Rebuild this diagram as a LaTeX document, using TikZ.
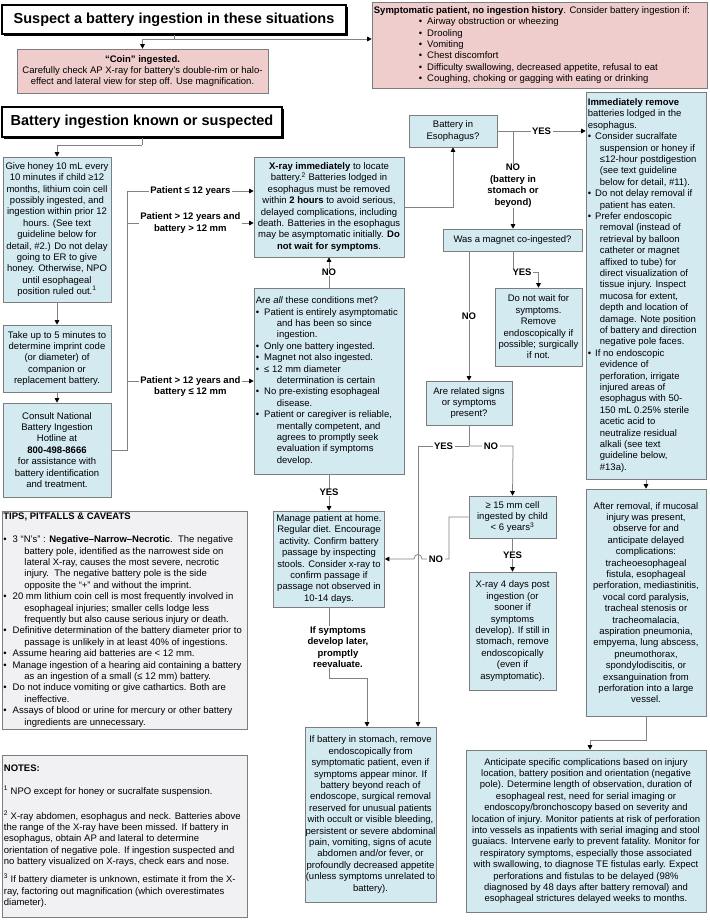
\documentclass[tikz,border=0pt]{standalone}
\usepackage{fontspec}
\setmainfont{Liberation Sans}
\usetikzlibrary{arrows.meta}
\definecolor{bblue}{RGB}{212,234,241}
\definecolor{bpink}{RGB}{239,205,205}
\definecolor{bgray}{RGB}{241,241,244}
\definecolor{edgec}{RGB}{125,125,125}
\definecolor{lnc}{RGB}{130,130,130}
\newcommand\myfs{\fontsize{9.5}{11.4}\selectfont}
\newcommand\myttl{\fontsize{14.5}{17}\selectfont\bfseries}
\newcommand\mybul{\textbullet}
\begin{document}
\begin{tikzpicture}[x=1pt,y=-1pt,
 box/.style={draw=edgec,line width=0.6pt,fill=bblue,inner sep=0pt,align=center,font=\myfs},
 pbox/.style={box,fill=bpink},
 gbox/.style={box,fill=bgray},
 txt/.style={inner sep=0pt,align=left,font=\myfs,anchor=west},
 tbox/.style={draw=black,line width=1.8pt,fill=white,font=\myttl,inner sep=0pt},
 ln/.style={draw=lnc,line width=0.75pt},
 arr/.style={ln,-{Triangle[length=4.5pt,width=4.5pt,color=black]}},
 lbl/.style={fill=white,inner xsep=1.5pt,inner ysep=0.5pt,font=\myfs\bfseries,align=center},
]
\fill[white] (0,0) rectangle (709,920);
\useasboundingbox (0,0) rectangle (709,920);

% ---------- titles
\fill[black] (4,7) rectangle (348,36);
\node[tbox,minimum width=344pt,minimum height=29pt] (t1) at (174,19.5) {Suspect a battery ingestion in these situations};
\fill[black] (4,109) rectangle (284,139);
\node[tbox,minimum width=280pt,minimum height=30pt] (t2) at (142,122) {Battery ingestion known or suspected};

% ---------- top pink boxes
\node[pbox,minimum width=251pt,minimum height=44pt] (coin) at (142.5,71) {\textbf{“Coin” ingested.}\\Carefully check AP X-ray for battery’s double-rim or halo-\\effect and lateral view for step off. Use magnification.};
\node[pbox,minimum width=335pt,minimum height=86pt] (symp) at (539.5,45) {};
\node[txt] (symptxt) at ([xshift=2pt]symp.west) {\textbf{Symptomatic patient, no ingestion history}. Consider battery ingestion if:\\
\hspace*{45pt}\mybul\hspace{5pt}Airway obstruction or wheezing\\
\hspace*{45pt}\mybul\hspace{5pt}Drooling\\
\hspace*{45pt}\mybul\hspace{5pt}Vomiting\\
\hspace*{45pt}\mybul\hspace{5pt}Chest discomfort\\
\hspace*{45pt}\mybul\hspace{5pt}Difficulty swallowing, decreased appetite, refusal to eat\\
\hspace*{45pt}\mybul\hspace{5pt}Coughing, choking or gagging with eating or drinking};

% ---------- left column
\node[box,minimum width=108pt,minimum height=145pt] (honey) at (57,229.5) {Give honey 10 mL every\\10 minutes if child ≥12\\months, lithium coin cell\\possibly ingested, and\\ingestion within prior 12\\hours. (See text\\guideline below for\\detail, \#2.) Do not delay\\going to ER to give\\honey. Otherwise, NPO\\until esophageal\\position ruled out.\textsuperscript{1}};
\node[box,minimum width=108pt,minimum height=67pt] (take) at (57,358.5) {Take up to 5 minutes to\\determine imprint code\\(or diameter) of\\companion or\\replacement battery.};
\node[box,minimum width=108pt,minimum height=94pt] (consult) at (57,450) {Consult National\\Battery Ingestion\\Hotline at\\\textbf{800-498-8666}\\for assistance with\\battery identification\\and treatment.};

\node[gbox,minimum width=245pt,minimum height=218pt] (tips) at (124.5,620) {};
\node[txt] (tipstxt) at ([xshift=1.5pt]tips.west) {\textbf{TIPS, PITFALLS \& CAVEATS}\\[11.6pt]
\mybul\hspace{6pt}3 “N’s” : \textbf{Negative–Narrow–Necrotic}.\ \ The negative\\
\hspace*{21pt}battery pole, identified as the narrowest side on\\
\hspace*{21pt}lateral X-ray, causes the most severe, necrotic\\
\hspace*{21pt}injury.\ \ The negative battery pole is the side\\
\hspace*{21pt}opposite the “+” and without the imprint.\\
\mybul\hspace{6pt}20 mm lithium coin cell is most frequently involved in\\
\hspace*{21pt}esophageal injuries; smaller cells lodge less\\
\hspace*{21pt}frequently but also cause serious injury or death.\\
\mybul\hspace{6pt}Definitive determination of the battery diameter prior to\\
\hspace*{21pt}passage is unlikely in at least 40\% of ingestions.\\
\mybul\hspace{6pt}Assume hearing aid batteries are < 12 mm.\\
\mybul\hspace{6pt}Manage ingestion of a hearing aid containing a battery\\
\hspace*{21pt}as an ingestion of a small (≤ 12 mm) battery.\\
\mybul\hspace{6pt}Do not induce vomiting or give cathartics. Both are\\
\hspace*{21pt}ineffective.\\
\mybul\hspace{6pt}Assays of blood or urine for mercury or other battery\\
\hspace*{21pt}ingredients are unnecessary.};

\node[gbox,minimum width=245pt,minimum height=162pt] (notes) at (124.5,836) {};
\node[txt] (notestxt) at ([xshift=2pt]notes.west) {\textbf{NOTES:}\\[11.6pt]
\textsuperscript{1} NPO except for honey or sucralfate suspension.\\[13.6pt]
\textsuperscript{2} X-ray abdomen, esophagus and neck. Batteries above\\
the range of the X-ray have been missed. If battery in\\
esophagus, obtain AP and lateral to determine\\
orientation of negative pole. If ingestion suspected and\\
no battery visualized on X-rays, check ears and nose.\\[6.6pt]
\textsuperscript{3} If battery diameter is unknown, estimate it from the X-\\
ray, factoring out magnification (which overestimates\\
diameter).};

% ---------- middle column
\node[box,minimum width=150pt,minimum height=100pt] (xray) at (329,207) {\textbf{X-ray immediately} to locate\\battery.\textsuperscript{2} Batteries lodged in\\esophagus must be removed\\within \textbf{2 hours} to avoid serious,\\delayed complications, including\\death. Batteries in the esophagus\\may be asymptomatic initially. \textbf{Do}\\\textbf{not wait for symptoms}.};
\node[box,minimum width=150pt,minimum height=186pt] (cond) at (329,381) {};
\node[txt] (condtxt) at ([xshift=2pt]cond.west) {Are \textit{all} these conditions met?\\
\mybul\hspace{5pt}Patient is entirely asymptomatic\\
\hspace*{21pt}and has been so since\\
\hspace*{21pt}ingestion.\\
\mybul\hspace{5pt}Only one battery ingested.\\
\mybul\hspace{5pt}Magnet not also ingested.\\
\mybul\hspace{5pt}≤ 12 mm diameter\\
\hspace*{21pt}determination is certain\\
\mybul\hspace{5pt}No pre-existing esophageal\\
\hspace*{21pt}disease.\\
\mybul\hspace{5pt}Patient or caregiver is reliable,\\
\hspace*{21pt}mentally competent, and\\
\hspace*{21pt}agrees to promptly seek\\
\hspace*{21pt}evaluation if symptoms\\
\hspace*{21pt}develop.};
\node[box,minimum width=111pt,minimum height=96pt] (manage) at (329,559) {Manage patient at home.\\Regular diet. Encourage\\activity. Confirm battery\\passage by inspecting\\stools. Consider x-ray to\\confirm passage if\\passage not observed in\\10-14 days.};
\node[box,minimum width=131pt,minimum height=175pt] (stom) at (370.5,814.5) {If battery in stomach, remove\\endoscopically from\\symptomatic patient, even if\\symptoms appear minor. If\\battery beyond reach of\\endoscope, surgical removal\\reserved for unusual patients\\with occult or visible bleeding,\\persistent or severe abdominal\\pain, vomiting, signs of acute\\abdomen and/or fever, or\\profoundly decreased appetite\\(unless symptoms unrelated to\\battery).};

% ---------- centre-right column
\node[box,minimum width=88pt,minimum height=32pt] (esoph) at (453,131) {Battery in\\Esophagus?};
\node[box,minimum width=139pt,minimum height=22pt] (magnet) at (512.5,240) {Was a magnet co-ingested?};
\node[box,minimum width=87pt,minimum height=78pt] (dnw) at (538.5,327) {Do not wait for\\symptoms.\\Remove\\endoscopically if\\possible; surgically\\if not.};
\node[box,minimum width=86pt,minimum height=44pt] (related) at (469,403) {Are related signs\\or symptoms\\present?};
\node[box,minimum width=87pt,minimum height=42pt] (f15) at (512.5,517) {≥ 15 mm cell\\ingested by child\\< 6 years\textsuperscript{3}};
\node[box,minimum width=87pt,minimum height=118pt] (x4) at (512.5,631) {X-ray 4 days post\\ingestion (or\\sooner if\\symptoms\\develop). If still in\\stomach, remove\\endoscopically\\(even if\\asymptomatic).};

% ---------- right column
\node[box,minimum width=120pt,minimum height=387pt] (rbox) at (646,285.5) {};
\node[txt] (rtxt) at ([xshift=2pt]rbox.west) {\textbf{Immediately remove}\\batteries lodged in the\\esophagus.\\
\mybul\hspace{4pt}Consider sucralfate\\
\hspace*{12pt}suspension or honey if\\
\hspace*{12pt}≤12-hour postdigestion\\
\hspace*{12pt}(see text guideline\\
\hspace*{12pt}below for detail, \#11).\\
\mybul\hspace{4pt}Do not delay removal if\\
\hspace*{12pt}patient has eaten.\\
\mybul\hspace{4pt}Prefer endoscopic\\
\hspace*{12pt}removal (instead of\\
\hspace*{12pt}retrieval by balloon\\
\hspace*{12pt}catheter or magnet\\
\hspace*{12pt}affixed to tube) for\\
\hspace*{12pt}direct visualization of\\
\hspace*{12pt}tissue injury. Inspect\\
\hspace*{12pt}mucosa for extent,\\
\hspace*{12pt}depth and location of\\
\hspace*{12pt}damage. Note position\\
\hspace*{12pt}of battery and direction\\
\hspace*{12pt}negative pole faces.\\
\mybul\hspace{4pt}If no endoscopic\\
\hspace*{12pt}evidence of\\
\hspace*{12pt}perforation, irrigate\\
\hspace*{12pt}injured areas of\\
\hspace*{12pt}esophagus with 50-\\
\hspace*{12pt}150 mL 0.25\% sterile\\
\hspace*{12pt}acetic acid to\\
\hspace*{12pt}neutralize residual\\
\hspace*{12pt}alkali (see text\\
\hspace*{12pt}guideline below,\\
\hspace*{12pt}\#13a).};
\node[box,minimum width=120pt,minimum height=227pt] (after) at (646,602.5) {After removal, if mucosal\\injury was present,\\observe for and\\anticipate delayed\\complications:\\tracheoesophageal\\fistula, esophageal\\perforation, mediastinitis,\\vocal cord paralysis,\\tracheal stenosis or\\tracheomalacia,\\aspiration pneumonia,\\empyema, lung abscess,\\pneumothorax,\\spondylodiscitis, or\\exsanguination from\\perforation into a large\\vessel.};
\node[box,minimum width=240pt,minimum height=162pt] (antic) at (586,831) {Anticipate specific complications based on injury\\location, battery position and orientation (negative\\pole). Determine length of observation, duration of\\esophageal rest, need for serial imaging or\\endoscopy/bronchoscopy based on severity and\\location of injury. Monitor patients at risk of perforation\\into vessels as inpatients with serial imaging and stool\\guaiacs. Intervene early to prevent fatality. Monitor for\\respiratory symptoms, especially those associated\\with swallowing, to diagnose TE fistulas early. Expect\\perforations and fistulas to be delayed (98\%\\diagnosed by 48 days after battery removal) and\\esophageal strictures delayed weeks to months.};

% ---------- bend points
\coordinate (j1) at (174,39);
\coordinate (j2) at (142,145);
\coordinate (b1) at (127,191);
\coordinate (b2) at (127,223);
\coordinate (b3) at (127,381);
\coordinate (nb) at (513,131);
\coordinate (m1) at (469,251);
\coordinate (m2) at (513,251);
\coordinate (m3) at (513,272);
\coordinate (r1) at (469,446);
\coordinate (r2) at (418,446);
\coordinate (r3) at (513,446);
\coordinate (h0) at (449,517);
\coordinate (h1) at (449,559);
\coordinate (s1) at (329,678);
\coordinate (s2) at (367,678);
\coordinate (a1) at (646,740);
\coordinate (a2) at (590,740);

% ---------- connectors
\draw[ln] (t1.south) -- (j1);
\draw[arr] (j1) -| (coin.north);
\draw[arr] (j1) -- (symp.west |- j1);
\draw[ln] (t2.south) -- (j2);
\draw[arr] (j2) -| (honey.north);
\draw[arr] (honey.south) -- (take.north);
\draw[arr] (take.south) -- (consult.north);
\draw[ln] (consult.east) -| (b1);
\draw[arr] (b1) -- (xray.west |- b1) node[lbl,midway] {Patient ≤ 12 years};
\draw[arr] (b2) -- (xray.west |- b2) node[lbl,midway] {Patient > 12 years and\\battery > 12 mm};
\draw[arr] (b3) -- (cond.west |- b3) node[lbl,midway,yshift=-5.5pt] {Patient > 12 years and\\battery ≤ 12 mm};
\draw[arr] (cond.north) -- (xray.south) node[lbl,midway] {NO};
\draw[arr] (cond.south) -- (manage.north) node[lbl,midway] {YES};
\draw[arr] (xray.east) -| (esoph.south);
\draw[arr] (esoph.east) -- (rbox.west |- esoph.east) node[lbl,midway] {YES};
\draw[arr] (nb) -- (magnet.north -| nb) node[lbl,pos=0.56] {NO\\(battery in\\stomach or\\beyond)};
\draw[arr] (m1) -- (related.north) node[lbl,midway] {NO};
\draw[arr] (m2) -- (m3) -| (dnw.north);
\node[lbl] (yesm) at (522,272) {YES};
\draw[ln] (related.south) -- (r1);
\draw[arr] (r1) -- (r2) node[lbl,midway] {YES} -- (stom.north -| r2);
\draw[arr] (r1) -- (r3) node[lbl,midway] {NO} -- (f15.north);
\draw[arr] (f15.west) -- (h0) -- (h1) -- (422,559) .. controls (422,553) and (414,553) .. (414,559) -- (manage.east |- h1);
\node[lbl] (nof) at (436,559) {NO};
\draw[arr] (f15.south) -- (x4.north) node[lbl,midway] {YES};
\draw[arr] (manage.south) -- (s1) -- (s2) -- (stom.north -| s2);
\node[lbl] (later) at (338,647) {If symptoms\\develop later,\\promptly\\reevaluate.};
\draw[arr] (rbox.south) -- (after.north);
\draw[arr] (after.south) -- (a1) -- (a2) -- (antic.north -| a2);
\end{tikzpicture}
\end{document}
